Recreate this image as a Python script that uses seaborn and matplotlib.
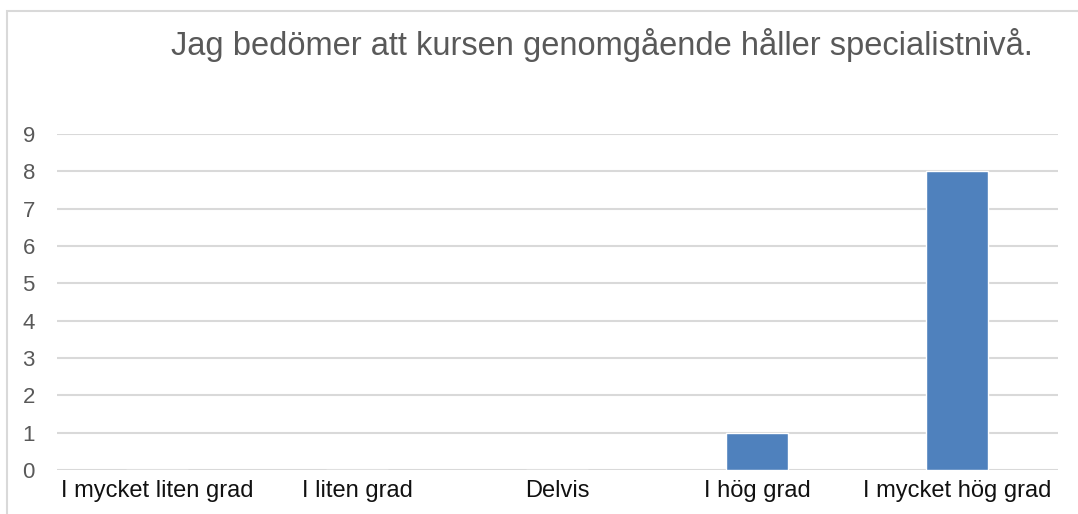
import matplotlib
matplotlib.use('Agg')
import matplotlib.pyplot as plt
import seaborn as sns
import pandas as pd
from matplotlib.patches import Rectangle

#Data
categories = ['I mycket liten grad', 'I liten grad', 'Delvis', 'I hög grad', 'I mycket hög grad']
counts = [0, 0, 0, 1, 8]
title = 'Jag bedömer att kursen genomgående håller specialistnivå.'

df = pd.DataFrame({'Svar': categories, 'Antal': counts})

sns.set_style('white')
plt.rcParams['font.family'] = ['Liberation Sans', 'DejaVu Sans']

fig = plt.figure(figsize=(10.78, 5.14), dpi=100)
ax = fig.add_axes([0.053, 0.0856, 0.928, 0.6535])

sns.barplot(data=df, x='Svar', y='Antal', color='#4f81bd', width=0.31,
            saturation=1, ax=ax)

ax.set_ylim(0, 9)
ax.set_yticks(range(0, 10))
ax.yaxis.grid(True, color='#d9d9d9', linewidth=1.5)
ax.set_axisbelow(True)
for s in ax.spines.values():
    s.set_visible(False)
ax.tick_params(axis='both', length=0)
ax.tick_params(axis='y', labelsize=16, labelcolor='#595959', pad=16)
ax.tick_params(axis='x', labelsize=17, labelcolor='#111111', pad=7)
ax.set_xlabel('')
ax.set_ylabel('')

fig.text(0.558, 0.912, title, ha='center', va='center', fontsize=23.5, color='#595959')

# chart border (partly cropped in the original)
fig.patches.append(Rectangle((7 / 1078, -0.1), 1.2, 1.1 - 11 / 514, transform=fig.transFigure,
                             fill=False, edgecolor='#d9d9d9', linewidth=1.5))

fig.savefig('out.png', dpi=100)
